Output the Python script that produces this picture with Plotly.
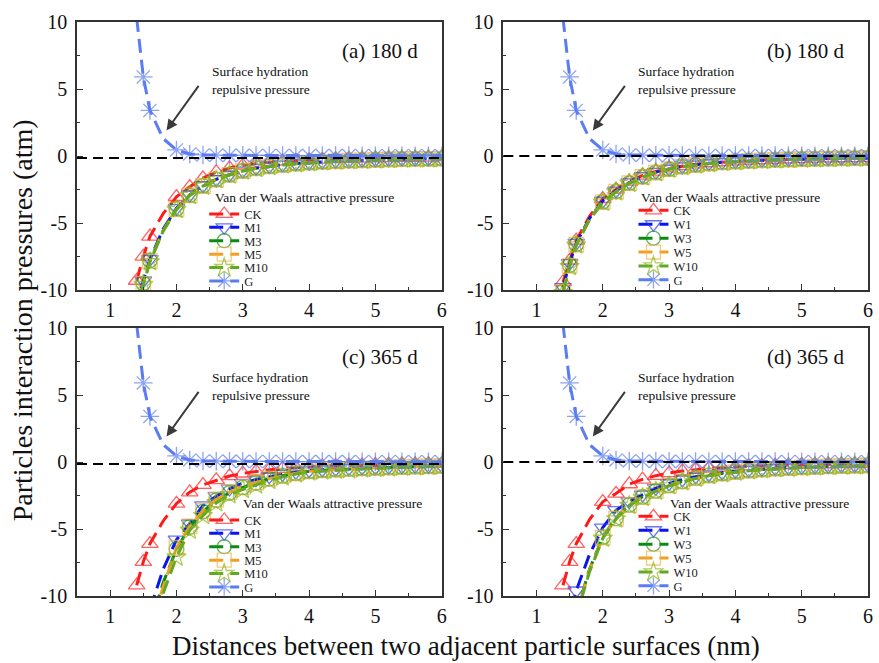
import plotly.graph_objects as go
from plotly.subplots import make_subplots

FONT = "Liberation Serif"

# Separation distance between adjacent particle surfaces (nm)
X_NM = [1.4, 1.5, 1.6, 1.8, 2.0, 2.2, 2.4, 2.6, 2.8, 3.0, 3.2, 3.4, 3.6,
        3.8, 4.0, 4.2, 4.4, 4.6, 4.8, 5.0, 5.2, 5.4, 5.6, 5.8, 6.0]

# distances where no symbol is drawn on the curves
NO_MARK_VDW = [1.8]
NO_MARK_G = [1.4, 1.8]

# Surface hydration repulsive pressure (atm)
G = [10.3, 5.9, 3.4, 1.3, 0.45, 0.15, 0.08, 0.06, 0.05, 0.05, 0.04, 0.04, 0.04,
     0.03, 0.03, 0.03, 0.03, 0.03, 0.02, 0.02, 0.02, 0.02, 0.02, 0.02, 0.02]

# (a) 180 d - Van der Waals attractive pressure (atm)
CK_A = [-9.3, -7.5, -6.0, -4.3, -3.05, -2.3, -1.65, -1.2, -0.9, -0.7, -0.57, -0.47, -0.4,
        -0.34, -0.3, -0.26, -0.23, -0.2, -0.18, -0.16, -0.15, -0.13, -0.12, -0.11, -0.1]
M1_A = [-11.4, -9.3, -7.7, -5.45, -3.9, -2.9, -2.2, -1.74, -1.39, -1.1, -0.9, -0.76, -0.65,
        -0.56, -0.49, -0.43, -0.38, -0.34, -0.31, -0.28, -0.25, -0.23, -0.21, -0.2, -0.19]
M3_A = [-11.6, -9.5, -7.8, -5.55, -3.95, -2.93, -2.23, -1.76, -1.4, -1.11, -0.91, -0.77, -0.66,
        -0.57, -0.5, -0.44, -0.39, -0.35, -0.32, -0.29, -0.26, -0.24, -0.22, -0.21, -0.2]
M5_A = [-11.7, -9.55, -7.85, -5.58, -3.98, -2.94, -2.24, -1.77, -1.41, -1.12, -0.92, -0.78, -0.66,
        -0.57, -0.5, -0.44, -0.39, -0.35, -0.32, -0.29, -0.26, -0.24, -0.22, -0.21, -0.2]
M10_A = [-11.8, -9.6, -7.9, -5.6, -4.0, -2.95, -2.25, -1.78, -1.42, -1.12, -0.93, -0.79, -0.67,
         -0.58, -0.51, -0.45, -0.4, -0.36, -0.33, -0.3, -0.27, -0.25, -0.23, -0.22, -0.21]

# (b) 180 d
CK_B = [-9.4, -7.8, -6.3, -4.5, -3.2, -2.5, -1.9, -1.45, -1.15, -0.92, -0.75, -0.62, -0.52,
        -0.45, -0.39, -0.34, -0.3, -0.27, -0.24, -0.21, -0.19, -0.17, -0.16, -0.15, -0.14]
W1_B = [-9.8, -8.0, -6.5, -4.65, -3.35, -2.6, -1.98, -1.52, -1.2, -0.96, -0.78, -0.65, -0.55,
        -0.47, -0.41, -0.36, -0.32, -0.28, -0.25, -0.22, -0.2, -0.18, -0.17, -0.16, -0.15]
W3_B = [-10.1, -8.15, -6.6, -4.72, -3.42, -2.65, -2.02, -1.55, -1.22, -0.98, -0.8, -0.66, -0.56,
        -0.48, -0.42, -0.37, -0.33, -0.29, -0.26, -0.23, -0.21, -0.19, -0.17, -0.16, -0.15]
W5_B = [-10.15, -8.2, -6.62, -4.74, -3.44, -2.66, -2.03, -1.56, -1.23, -0.98, -0.8, -0.67, -0.56,
        -0.48, -0.42, -0.37, -0.33, -0.29, -0.26, -0.23, -0.21, -0.19, -0.17, -0.16, -0.15]
W10_B = [-10.2, -8.25, -6.65, -4.76, -3.46, -2.68, -2.05, -1.57, -1.24, -0.99, -0.81, -0.67, -0.57,
         -0.49, -0.43, -0.38, -0.33, -0.3, -0.27, -0.24, -0.21, -0.19, -0.18, -0.16, -0.15]

# (c) 365 d
CK_C = [-9.2, -7.45, -6.1, -4.4, -3.1, -2.25, -1.7, -1.35, -1.05, -0.85, -0.7, -0.58, -0.5,
        -0.43, -0.37, -0.32, -0.28, -0.25, -0.22, -0.2, -0.18, -0.16, -0.15, -0.14, -0.13]
M1_C = [-15.5, -13.0, -11.0, -8.0, -5.8, -4.6, -3.25, -2.55, -2.0, -1.57, -1.3, -1.08, -0.9,
        -0.75, -0.63, -0.57, -0.52, -0.47, -0.43, -0.4, -0.37, -0.34, -0.31, -0.29, -0.27]
M3_C = [-17.0, -14.5, -12.2, -9.0, -6.5, -4.85, -3.7, -2.85, -2.3, -1.9, -1.55, -1.25, -1.03,
        -0.85, -0.7, -0.63, -0.57, -0.52, -0.48, -0.44, -0.41, -0.38, -0.35, -0.32, -0.3]
M5_C = [-17.5, -14.8, -12.5, -9.3, -6.4, -4.8, -3.65, -2.8, -2.25, -1.88, -1.53, -1.24, -1.02,
        -0.84, -0.7, -0.63, -0.57, -0.52, -0.48, -0.44, -0.41, -0.38, -0.35, -0.32, -0.3]
M10_C = [-19.0, -16.0, -13.5, -9.8, -7.1, -5.1, -4.0, -3.05, -2.45, -2.05, -1.72, -1.38, -1.12,
         -0.9, -0.75, -0.68, -0.62, -0.57, -0.52, -0.48, -0.44, -0.4, -0.37, -0.34, -0.32]

# (d) 365 d
CK_D = [-9.2, -7.45, -6.1, -4.3, -2.97, -2.35, -1.65, -1.3, -1.02, -0.82, -0.68, -0.57, -0.48,
        -0.41, -0.36, -0.31, -0.28, -0.25, -0.22, -0.2, -0.18, -0.16, -0.15, -0.14, -0.13]
W1_D = [-14.0, -11.6, -9.6, -6.9, -4.9, -3.6, -2.95, -2.45, -1.95, -1.6, -1.32, -1.1, -0.93,
        -0.8, -0.69, -0.6, -0.53, -0.47, -0.42, -0.38, -0.34, -0.31, -0.28, -0.26, -0.24]
W3_D = [-16.0, -13.5, -11.3, -8.0, -5.6, -4.2, -3.2, -2.6, -2.15, -1.75, -1.45, -1.2, -1.0,
        -0.86, -0.74, -0.64, -0.56, -0.5, -0.45, -0.4, -0.36, -0.33, -0.3, -0.28, -0.26]
W5_D = [-16.2, -13.6, -11.4, -8.1, -5.65, -4.22, -3.22, -2.62, -2.16, -1.76, -1.46, -1.21, -1.01,
        -0.87, -0.75, -0.65, -0.57, -0.5, -0.45, -0.4, -0.36, -0.33, -0.3, -0.28, -0.26]
W10_D = [-16.4, -13.8, -11.5, -8.2, -5.7, -4.25, -3.25, -2.65, -2.18, -1.78, -1.48, -1.22, -1.02,
         -0.88, -0.76, -0.66, -0.58, -0.51, -0.46, -0.41, -0.37, -0.34, -0.31, -0.29, -0.27]

PANEL_LABELS = ["(a) 180 d", "(b) 180 d", "(c) 365 d", "(d) 365 d"]
NAMES_M = ["CK", "M1", "M3", "M5", "M10", "G"]
NAMES_W = ["CK", "W1", "W3", "W5", "W10", "G"]
SERIES = [
    [CK_A, M1_A, M3_A, M5_A, M10_A, G],
    [CK_B, W1_B, W3_B, W5_B, W10_B, G],
    [CK_C, M1_C, M3_C, M5_C, M10_C, G],
    [CK_D, W1_D, W3_D, W5_D, W10_D, G],
]
PANEL_NAMES = [NAMES_M, NAMES_W, NAMES_M, NAMES_W]
ZERO_LINE = [-0.15, 0.0, -0.15, 0.0]

X_RANGE = [0.5, 6]
X_TICKS = [1, 2, 3, 4, 5, 6]
Y_RANGE = [-10, 10]
Y_TICKS = [-10, -5, 0, 5, 10]
Y_TICKTEXT = ["-10", "-5", "0", "5", "10"]

# line colour, marker colour, symbol for CK, 1, 3, 5, 10, G
STYLE = [
    ("#FF1A1A", "#FF2020", "triangle-up-open"),
    ("#0A14F0", "#2838F5", "triangle-down-open"),
    ("#0B8A12", "#18901E", "circle-open"),
    ("#F0A020", "#F2B24A", "square-open"),
    ("#62A828", "#8CB814", "star-open"),
    ("#5C7CF2", "#5C7CF2", "asterisk-open"),
]
MARKER_SIZE = 14.5
MARKER_SIZE_G = 15.5

W, H = 879, 663
ML, MR, MT, MB = 77, 6, 22, 67
PW, PH = W - ML - MR, H - MT - MB


def px_x(p):
    return (p - ML) / PW


def px_y(p):
    return (H - MB - p) / PH


X_DOM = [[0, px_x(444)], [px_x(506), 1]]
Y_DOM = [[px_y(290), 1], [0, px_y(328)]]
# left edge (data x) of the "Van der Waals" caption in the top and bottom rows
VDW_CAPTION_X = [2.55, 2.98]

fig = make_subplots(rows=2, cols=2)

legend_layout = {}
for p in range(4):
    r, c = divmod(p, 2)
    for k, (vals, name) in enumerate(zip(SERIES[p], PANEL_NAMES[p])):
        lcol, mcol, sym = STYLE[k]
        hidden = NO_MARK_G if k == 5 else NO_MARK_VDW
        full = MARKER_SIZE_G if k == 5 else MARKER_SIZE
        sizes = [0 if xv in hidden else full for xv in X_NM]
        n = p * 6 + k + 1
        lid = "legend" if n == 1 else f"legend{n}"
        fig.add_trace(
            go.Scatter(
                x=X_NM, y=vals, name=name, mode="lines+markers",
                line=dict(color=lcol, width=3, dash="14px,7px"),
                marker=dict(symbol=sym, size=sizes, color=mcol,
                            line=dict(width=1.3, color=mcol)),
                legend=lid, showlegend=True,
            ),
            row=r + 1, col=c + 1,
        )
        # one legend box per entry so the rows can sit close together
        if c == 0:
            bx, cy = 205, 214.3 + 13.4 * k
        else:
            bx, cy = 637, 210.7 + 13.9 * k
        cy += 306 * r
        legend_layout[lid] = dict(
            x=px_x(bx), y=px_y(cy), xanchor="left", yanchor="middle",
            bgcolor="rgba(0,0,0,0)", borderwidth=0, itemwidth=30,
            font=dict(family=FONT, size=12.5, color="#222"),
        )
    fig.add_hline(y=ZERO_LINE[p], row=r + 1, col=c + 1,
                  line=dict(color="black", width=2, dash="10px,6px"))

axis_common = dict(
    showline=True, linecolor="#333", linewidth=1.5, mirror=True,
    showgrid=False, zeroline=False, ticks="inside", ticklen=6, tickwidth=1.4,
    tickcolor="#333", tickfont=dict(family=FONT, size=20, color="#111"),
)

for p in range(4):
    r, c = divmod(p, 2)
    n = p + 1
    xa = "xaxis" if n == 1 else f"xaxis{n}"
    ya = "yaxis" if n == 1 else f"yaxis{n}"
    fig.layout[xa].update(
        domain=X_DOM[c], range=X_RANGE, tickmode="array", tickvals=X_TICKS,
        minor=dict(ticks="inside", ticklen=3, tickwidth=1.2, tickcolor="#333",
                   tickmode="linear", tick0=0.5, dtick=0.5),
        ticklabelstandoff=1, **axis_common,
    )
    fig.layout[ya].update(
        domain=Y_DOM[r], range=Y_RANGE, tickmode="array", tickvals=Y_TICKS,
        ticktext=Y_TICKTEXT,
        minor=dict(ticks="inside", ticklen=3, tickwidth=1.2, tickcolor="#333",
                   tickmode="linear", tick0=-10, dtick=2.5),
        ticklabelstandoff=4, **axis_common,
    )
    xr = "x" if n == 1 else f"x{n}"
    yr = "y" if n == 1 else f"y{n}"
    fig.add_annotation(x=5.67, y=7.85, xref=xr, yref=yr, text=PANEL_LABELS[p],
                       showarrow=False, xanchor="right", yanchor="middle",
                       font=dict(family=FONT, size=21, color="#111"))
    fig.add_annotation(x=2.5, y=5.65, xref=xr, yref=yr,
                       text="Surface hydration<br>repulsive pressure",
                       showarrow=False, xanchor="left", yanchor="middle", align="left",
                       font=dict(family=FONT, size=13.5, color="#111"))
    fig.add_annotation(x=1.85, y=1.9, ax=2.35, ay=5.35, xref=xr, yref=yr,
                       axref=xr, ayref=yr, text="", showarrow=True,
                       arrowhead=2, arrowsize=1.1, arrowwidth=2, arrowcolor="#3a3a3a")
    fig.add_annotation(x=VDW_CAPTION_X[r], y=-3.1, xref=xr, yref=yr,
                       text="Van der Waals attractive pressure",
                       showarrow=False, xanchor="left", yanchor="middle",
                       font=dict(family=FONT, size=13.5, color="#111"))

fig.add_annotation(x=px_x(22), y=px_y(320), xref="paper", yref="paper",
                   text="Particles interaction pressures (atm)", textangle=-90,
                   showarrow=False, xanchor="center", yanchor="middle",
                   font=dict(family=FONT, size=28, color="#111"))
fig.add_annotation(x=px_x(468), y=px_y(646), xref="paper", yref="paper",
                   text="Distances between two adjacent particle surfaces (nm)",
                   showarrow=False, xanchor="center", yanchor="middle",
                   font=dict(family=FONT, size=27, color="#111"))

fig.update_layout(
    width=W, height=H, margin=dict(l=ML, r=MR, t=MT, b=MB),
    paper_bgcolor="white", plot_bgcolor="white",
    font=dict(family=FONT, color="#111"),
    **legend_layout,
)

fig.write_html("out.html")
